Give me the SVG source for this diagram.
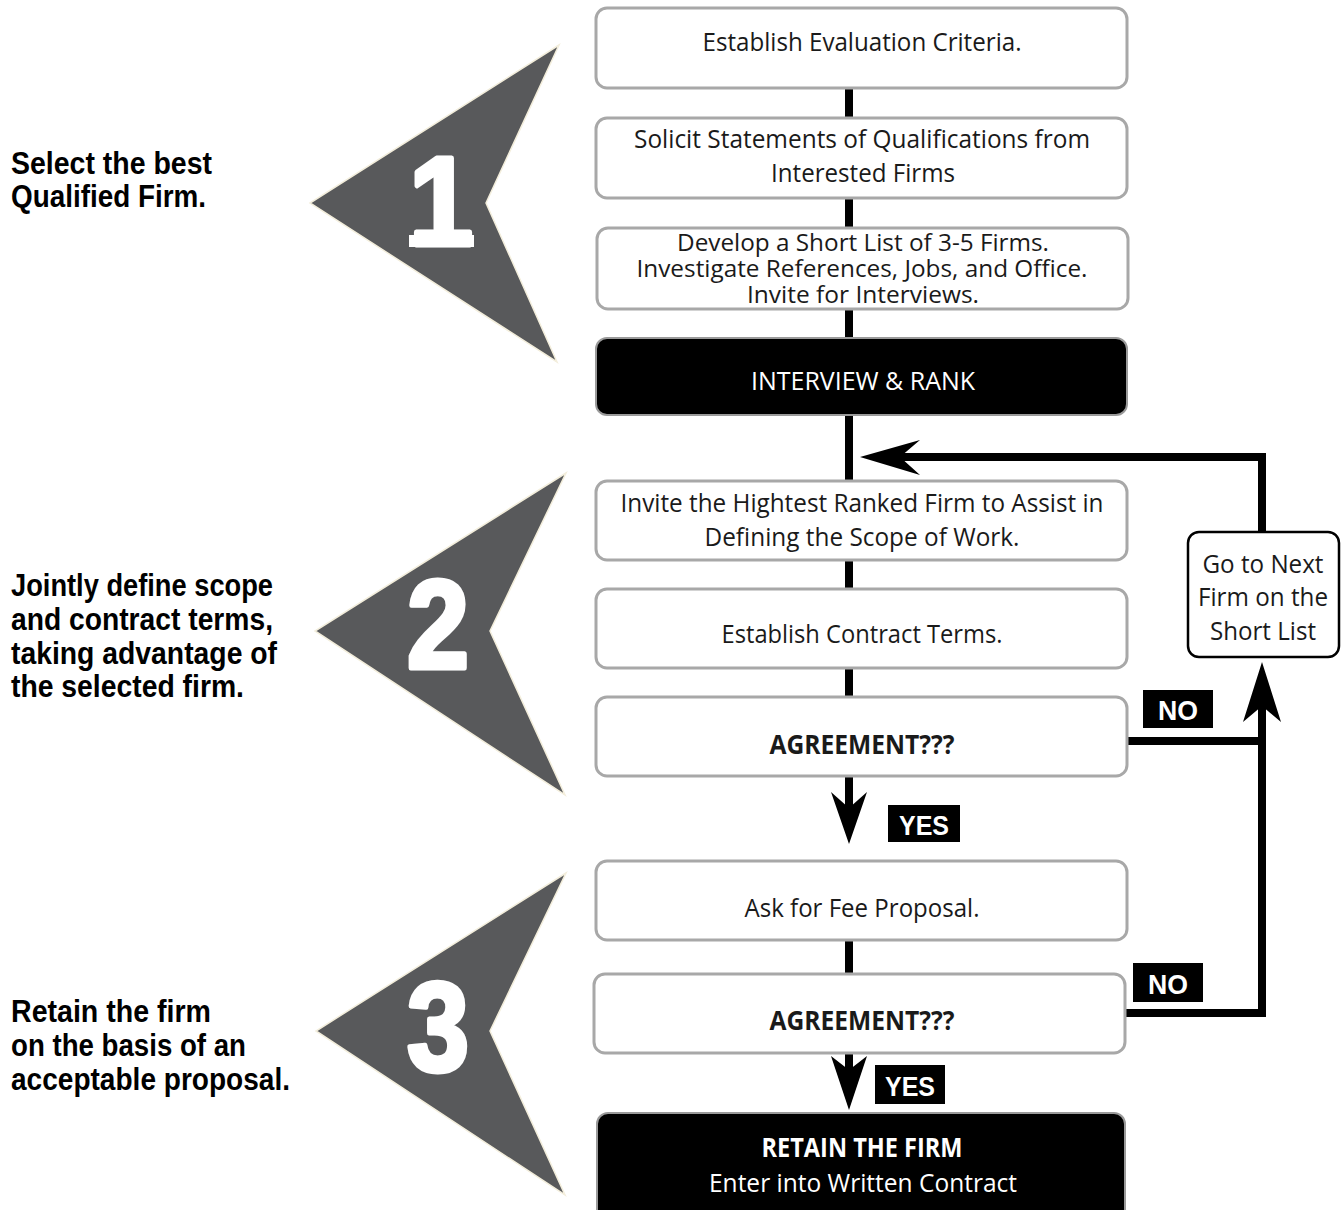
<svg xmlns="http://www.w3.org/2000/svg" width="1341" height="1210" viewBox="0 0 1341 1210">
<style>
.box{fill:#fff;stroke:#a8a8a8;stroke-width:3}
.dark{fill:#000;stroke:#9a9a9a;stroke-width:2}
.t{font-family:"Open Sans","Liberation Sans",sans-serif;font-size:26px;fill:#1a1a1a;text-anchor:middle}
.s{font-size:24px}
.tb{font-family:"Open Sans","Liberation Sans",sans-serif;font-size:26px;font-weight:bold;fill:#1a1a1a;text-anchor:middle}
.w{fill:#fff}
.side{font-family:"Liberation Sans",Arial,sans-serif;font-size:31px;font-weight:bold;fill:#000}
.chev{fill:#58595b;stroke:#f3eedc;stroke-width:1.5}
.num{font-family:"Liberation Sans",Arial,sans-serif;font-size:126px;font-weight:bold;fill:#fff;stroke:#fff;stroke-width:5;stroke-linejoin:round;text-anchor:middle}
.lbl{fill:#000}
.lt{font-family:"Liberation Sans",Arial,sans-serif;font-size:27px;font-weight:bold;fill:#fff;text-anchor:middle}
.ln{stroke:#000;stroke-width:8;fill:none}
</style>
<rect width="1341" height="1210" fill="#fff"/>

<g id="stage1">
<polygon class="chev" points="559,45 310,203 557,362 486,203"/>
<text class="num" x="441" y="245" textLength="64" lengthAdjust="spacingAndGlyphs">1</text>
<rect x="409" y="235" width="65" height="12" fill="#fff"/>
<text class="side" x="11" y="174" textLength="201" lengthAdjust="spacingAndGlyphs">Select the best</text>
<text class="side" x="11" y="207" textLength="195" lengthAdjust="spacingAndGlyphs">Qualified Firm.</text>
</g>
<g id="stage2">
<polygon class="chev" points="566,473 315,631 565,795 490,631"/>
<text class="num" x="438" y="668" textLength="62" lengthAdjust="spacingAndGlyphs">2</text>
<text class="side" x="11" y="596" textLength="262" lengthAdjust="spacingAndGlyphs">Jointly define scope</text>
<text class="side" x="11" y="630" textLength="262" lengthAdjust="spacingAndGlyphs">and contract terms,</text>
<text class="side" x="11" y="664" textLength="266" lengthAdjust="spacingAndGlyphs">taking advantage of</text>
<text class="side" x="11" y="697" textLength="233" lengthAdjust="spacingAndGlyphs">the selected firm.</text>
</g>
<g id="stage3">
<polygon class="chev" points="566,873 316,1031 565,1195 490,1031"/>
<text class="num" x="438" y="1071" textLength="62" lengthAdjust="spacingAndGlyphs">3</text>
<text class="side" x="11" y="1022" textLength="200" lengthAdjust="spacingAndGlyphs">Retain the firm</text>
<text class="side" x="11" y="1056" textLength="235" lengthAdjust="spacingAndGlyphs">on the basis of an</text>
<text class="side" x="11" y="1090" textLength="279" lengthAdjust="spacingAndGlyphs">acceptable proposal.</text>
</g>

<g id="connectors">
<line class="ln" x1="849" y1="88" x2="849" y2="118"/>
<line class="ln" x1="849" y1="198" x2="849" y2="228"/>
<line class="ln" x1="849" y1="309" x2="849" y2="338"/>
<line class="ln" x1="849" y1="415" x2="849" y2="481"/>
<line class="ln" x1="849" y1="560" x2="849" y2="589"/>
<line class="ln" x1="849" y1="668" x2="849" y2="697"/>
<line class="ln" x1="849" y1="776" x2="849" y2="812"/>
<polygon points="831,792 849,808 867,792 849,844" fill="#000"/>
<line class="ln" x1="849" y1="940" x2="849" y2="974"/>
<line class="ln" x1="849" y1="1053" x2="849" y2="1072"/>
<polygon points="831,1056 849,1070 867,1056 849,1110" fill="#000"/>
<polyline class="ln" points="1125,1013 1262,1013 1262,700"/>
<line class="ln" x1="1127" y1="741" x2="1262" y2="741"/>
<polygon points="1243,722 1262,706 1281,722 1262,662" fill="#000"/>
<polyline class="ln" points="1262,532 1262,457 895,457"/>
<polygon points="920,440 900,457 920,475 860,457" fill="#000"/>
</g>

<g id="n1"><rect class="box" x="596" y="8" width="531" height="80" rx="11"/>
<text class="t" x="862" y="51" textLength="319" lengthAdjust="spacingAndGlyphs">Establish Evaluation Criteria.</text></g>
<g id="n2"><rect class="box" x="596" y="118" width="531" height="80" rx="11"/>
<text class="t" x="862" y="148" textLength="456" lengthAdjust="spacingAndGlyphs">Solicit Statements of Qualifications from</text>
<text class="t" x="863" y="182" textLength="184" lengthAdjust="spacingAndGlyphs">Interested Firms</text></g>
<g id="n3"><rect class="box" x="597" y="228" width="531" height="81" rx="11"/>
<text class="t s" x="863" y="251" textLength="372" lengthAdjust="spacingAndGlyphs">Develop a Short List of 3-5 Firms.</text>
<text class="t s" x="862" y="277" textLength="451" lengthAdjust="spacingAndGlyphs">Investigate References, Jobs, and Office.</text>
<text class="t s" x="863" y="303" textLength="232" lengthAdjust="spacingAndGlyphs">Invite for Interviews.</text></g>
<g id="n4"><rect class="dark" x="596" y="338" width="531" height="77" rx="11"/>
<text class="t w" x="863" y="390" textLength="224" lengthAdjust="spacingAndGlyphs">INTERVIEW &amp; RANK</text></g>
<g id="n5"><rect class="box" x="596" y="481" width="531" height="79" rx="11"/>
<text class="t" x="862" y="512" textLength="483" lengthAdjust="spacingAndGlyphs">Invite the Hightest Ranked Firm to Assist in</text>
<text class="t" x="862" y="546" textLength="315" lengthAdjust="spacingAndGlyphs">Defining the Scope of Work.</text></g>
<g id="n6"><rect class="box" x="596" y="589" width="531" height="79" rx="11"/>
<text class="t" x="862" y="643" textLength="281" lengthAdjust="spacingAndGlyphs">Establish Contract Terms.</text></g>
<g id="n7"><rect class="box" x="596" y="697" width="531" height="79" rx="11"/>
<text class="tb" x="862" y="754" textLength="185" lengthAdjust="spacingAndGlyphs">AGREEMENT???</text></g>
<g id="n8"><rect class="box" x="596" y="861" width="531" height="79" rx="11"/>
<text class="t" x="862" y="917" textLength="235" lengthAdjust="spacingAndGlyphs">Ask for Fee Proposal.</text></g>
<g id="n9"><rect class="box" x="594" y="974" width="531" height="79" rx="11"/>
<text class="tb" x="862" y="1030" textLength="185" lengthAdjust="spacingAndGlyphs">AGREEMENT???</text></g>
<g id="n10"><rect class="dark" x="597" y="1113" width="528" height="110" rx="11"/>
<text class="tb w" x="862" y="1157" textLength="201" lengthAdjust="spacingAndGlyphs">RETAIN THE FIRM</text>
<text class="t w" x="863" y="1192" textLength="308" lengthAdjust="spacingAndGlyphs">Enter into Written Contract</text></g>
<g id="n11"><rect x="1188" y="532" width="151" height="125" rx="11" fill="#fff" stroke="#000" stroke-width="2.5"/>
<text class="t" x="1263" y="573" textLength="121" lengthAdjust="spacingAndGlyphs">Go to Next</text>
<text class="t" x="1263" y="606" textLength="130" lengthAdjust="spacingAndGlyphs">Firm on the</text>
<text class="t" x="1263" y="640" textLength="106" lengthAdjust="spacingAndGlyphs">Short List</text></g>

<g id="labels">
<rect class="lbl" x="1143" y="690" width="70" height="38"/>
<text class="lt" x="1178" y="720" textLength="40" lengthAdjust="spacingAndGlyphs">NO</text>
<rect class="lbl" x="888" y="805" width="72" height="37"/>
<text class="lt" x="924" y="835" textLength="50" lengthAdjust="spacingAndGlyphs">YES</text>
<rect class="lbl" x="1133" y="963" width="70" height="39"/>
<text class="lt" x="1168" y="994" textLength="40" lengthAdjust="spacingAndGlyphs">NO</text>
<rect class="lbl" x="875" y="1065" width="70" height="39"/>
<text class="lt" x="910" y="1096" textLength="50" lengthAdjust="spacingAndGlyphs">YES</text>
</g>
</svg>
